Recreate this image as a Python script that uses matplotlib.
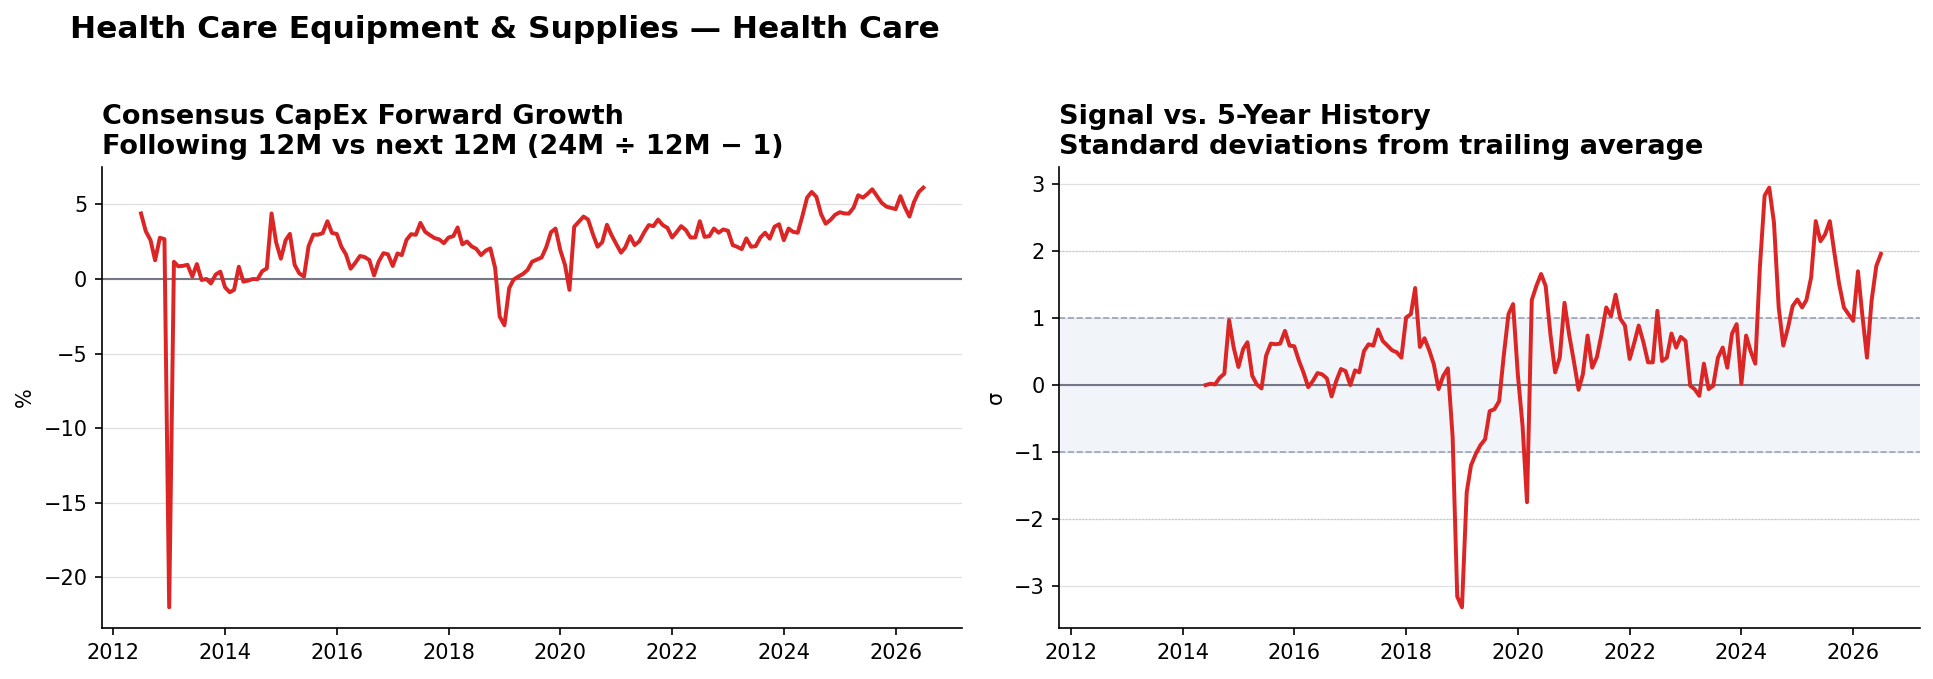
import matplotlib.pyplot as plt
import matplotlib.dates as mdates
import pandas as pd

SUPTITLE = "Health Care Equipment & Supplies — Health Care"
LEFT_TITLE = "Consensus CapEx Forward Growth\nFollowing 12M vs next 12M (24M ÷ 12M − 1)"
RIGHT_TITLE = "Signal vs. 5-Year History\nStandard deviations from trailing average"

# monthly forward capex growth, %, from Jul 2012
growth_start = "2012-07-01"
growth_pct = [
    4.39, 3.2, 2.6, 1.25, 2.76, 2.67, -22.0, 1.15, 0.85, 0.88,
    0.95, 0.16, 1.0, -0.07, 0.0, -0.3, 0.3, 0.49, -0.56, -0.89,
    -0.73, 0.82, -0.18, -0.11, 0.0, -0.02, 0.52, 0.71, 4.39, 2.45,
    1.36, 2.6, 3.02, 0.94, 0.38, 0.16, 2.2, 2.97, 2.97, 3.07,
    3.87, 3.08, 3.02, 2.15, 1.65, 0.69, 1.08, 1.54, 1.47, 1.27,
    0.24, 1.16, 1.73, 1.65, 0.87, 1.71, 1.6, 2.62, 3.0, 2.96,
    3.76, 3.16, 2.94, 2.74, 2.65, 2.4, 2.78, 2.87, 3.45, 2.32,
    2.51, 2.18, 2.02, 1.6, 1.9, 2.05, 0.75, -2.52, -3.1, -0.62,
    -0.05, 0.16, 0.33, 0.6, 1.16, 1.3, 1.44, 2.12, 3.13, 3.38,
    1.94, 0.93, -0.73, 3.5, 3.83, 4.18, 3.98, 3.0, 2.16, 2.46,
    3.63, 2.94, 2.34, 1.76, 2.12, 2.87, 2.27, 2.53, 3.1, 3.61,
    3.54, 3.98, 3.61, 3.43, 2.78, 3.16, 3.54, 3.27, 2.78, 2.78,
    3.87, 2.82, 2.87, 3.38, 3.1, 3.32, 3.23, 2.27, 2.16, 2.0,
    2.72, 2.16, 2.2, 2.78, 3.1, 2.7, 3.5, 3.67, 2.6, 3.38,
    3.16, 3.1, 4.2, 5.45, 5.83, 5.5, 4.33, 3.7, 3.96, 4.3,
    4.47, 4.39, 4.38, 4.78, 5.61, 5.45, 5.7, 6.01, 5.55, 5.11,
    4.85, 4.77, 4.68, 5.55, 4.83, 4.18, 5.16, 5.83, 6.12,
]

# z-score vs trailing 5y, from Jun 2014
zscore_start = "2014-06-01"
zscore_sigma = [
    0.0, 0.02, 0.01, 0.11, 0.17, 0.97, 0.56, 0.27, 0.54, 0.64,
    0.14, 0.01, -0.05, 0.44, 0.62, 0.61, 0.62, 0.81, 0.59, 0.58,
    0.36, 0.19, -0.03, 0.06, 0.18, 0.16, 0.10, -0.17, 0.06, 0.24,
    0.21, 0.0, 0.22, 0.19, 0.51, 0.61, 0.59, 0.83, 0.66, 0.59,
    0.52, 0.49, 0.41, 1.01, 1.06, 1.45, 0.57, 0.70, 0.52, 0.31,
    -0.06, 0.14, 0.25, -0.78, -3.16, -3.32, -1.6, -1.2, -1.03, -0.9,
    -0.81, -0.39, -0.36, -0.24, 0.44, 1.06, 1.21, 0.16, -0.61, -1.75,
    1.27, 1.48, 1.66, 1.48, 0.76, 0.19, 0.41, 1.23, 0.76, 0.36,
    -0.07, 0.16, 0.74, 0.26, 0.42, 0.76, 1.16, 1.03, 1.35, 0.99,
    0.89, 0.39, 0.64, 0.89, 0.64, 0.34, 0.34, 1.11, 0.36, 0.41,
    0.77, 0.56, 0.72, 0.66, -0.01, -0.06, -0.16, 0.32, -0.06, -0.01,
    0.41, 0.56, 0.26, 0.77, 0.91, 0.02, 0.74, 0.51, 0.32, 1.76,
    2.83, 2.95, 2.43, 1.16, 0.59, 0.86, 1.18, 1.28, 1.16, 1.27,
    1.61, 2.45, 2.15, 2.25, 2.45, 1.96, 1.51, 1.16, 1.06, 0.96,
    1.70, 1.06, 0.41, 1.26, 1.78, 1.96,
]

RED = "#dc2626"
ZERO = "#747886"
GRID = "#e0e0e4"
BAND_EDGE = "#97a3b6"
BAND_FILL = "#f1f4f9"

growth_dates = pd.date_range(growth_start, periods=len(growth_pct), freq="MS")
zscore_dates = pd.date_range(zscore_start, periods=len(zscore_sigma), freq="MS")

fig, (ax1, ax2) = plt.subplots(1, 2, figsize=(12.893, 4.527), dpi=150, sharex=True)
fig.subplots_adjust(left=0.0527, right=0.9928, top=0.7545, bottom=0.0747, wspace=0.1127)

fig.text(0.036, 0.944, SUPTITLE, fontsize=15, fontweight="bold", ha="left", va="baseline")

# left panel: growth
ax1.grid(axis="y", color=GRID, lw=0.6)
ax1.axhline(0, color=ZERO, lw=1.0, zorder=2)
ax1.plot(growth_dates, growth_pct, color=RED, lw=1.9, zorder=3)
ax1.set_ylabel("%", fontsize=10)
ax1.set_title(LEFT_TITLE, loc="left", fontsize=13, fontweight="bold")

# right panel: z-score
ax2.grid(axis="y", color=GRID, lw=0.6)
ax2.axhspan(-1, 1, color=BAND_FILL, lw=0, zorder=0)
for lvl in (-1, 1):
    ax2.axhline(lvl, color=BAND_EDGE, lw=0.8, ls="--", zorder=1)
for lvl in (-2, 2):
    ax2.axhline(lvl, color="#bcc7d6", lw=0.6, ls=":", zorder=1)
ax2.axhline(0, color=ZERO, lw=1.0, zorder=2)
ax2.plot(zscore_dates, zscore_sigma, color=RED, lw=1.9, zorder=3)
ax2.set_ylabel("σ", fontsize=10)
ax2.set_title(RIGHT_TITLE, loc="left", fontsize=13, fontweight="bold")

for ax in (ax1, ax2):
    ax.set_axisbelow(True)
    ax.spines["top"].set_visible(False)
    ax.spines["right"].set_visible(False)
    ax.xaxis.set_major_locator(mdates.YearLocator(2))
    ax.xaxis.set_major_formatter(mdates.DateFormatter("%Y"))
    ax.tick_params(labelsize=10)
    ax.tick_params(axis="x", labelbottom=True)

fig.savefig("out.png", dpi=150)
